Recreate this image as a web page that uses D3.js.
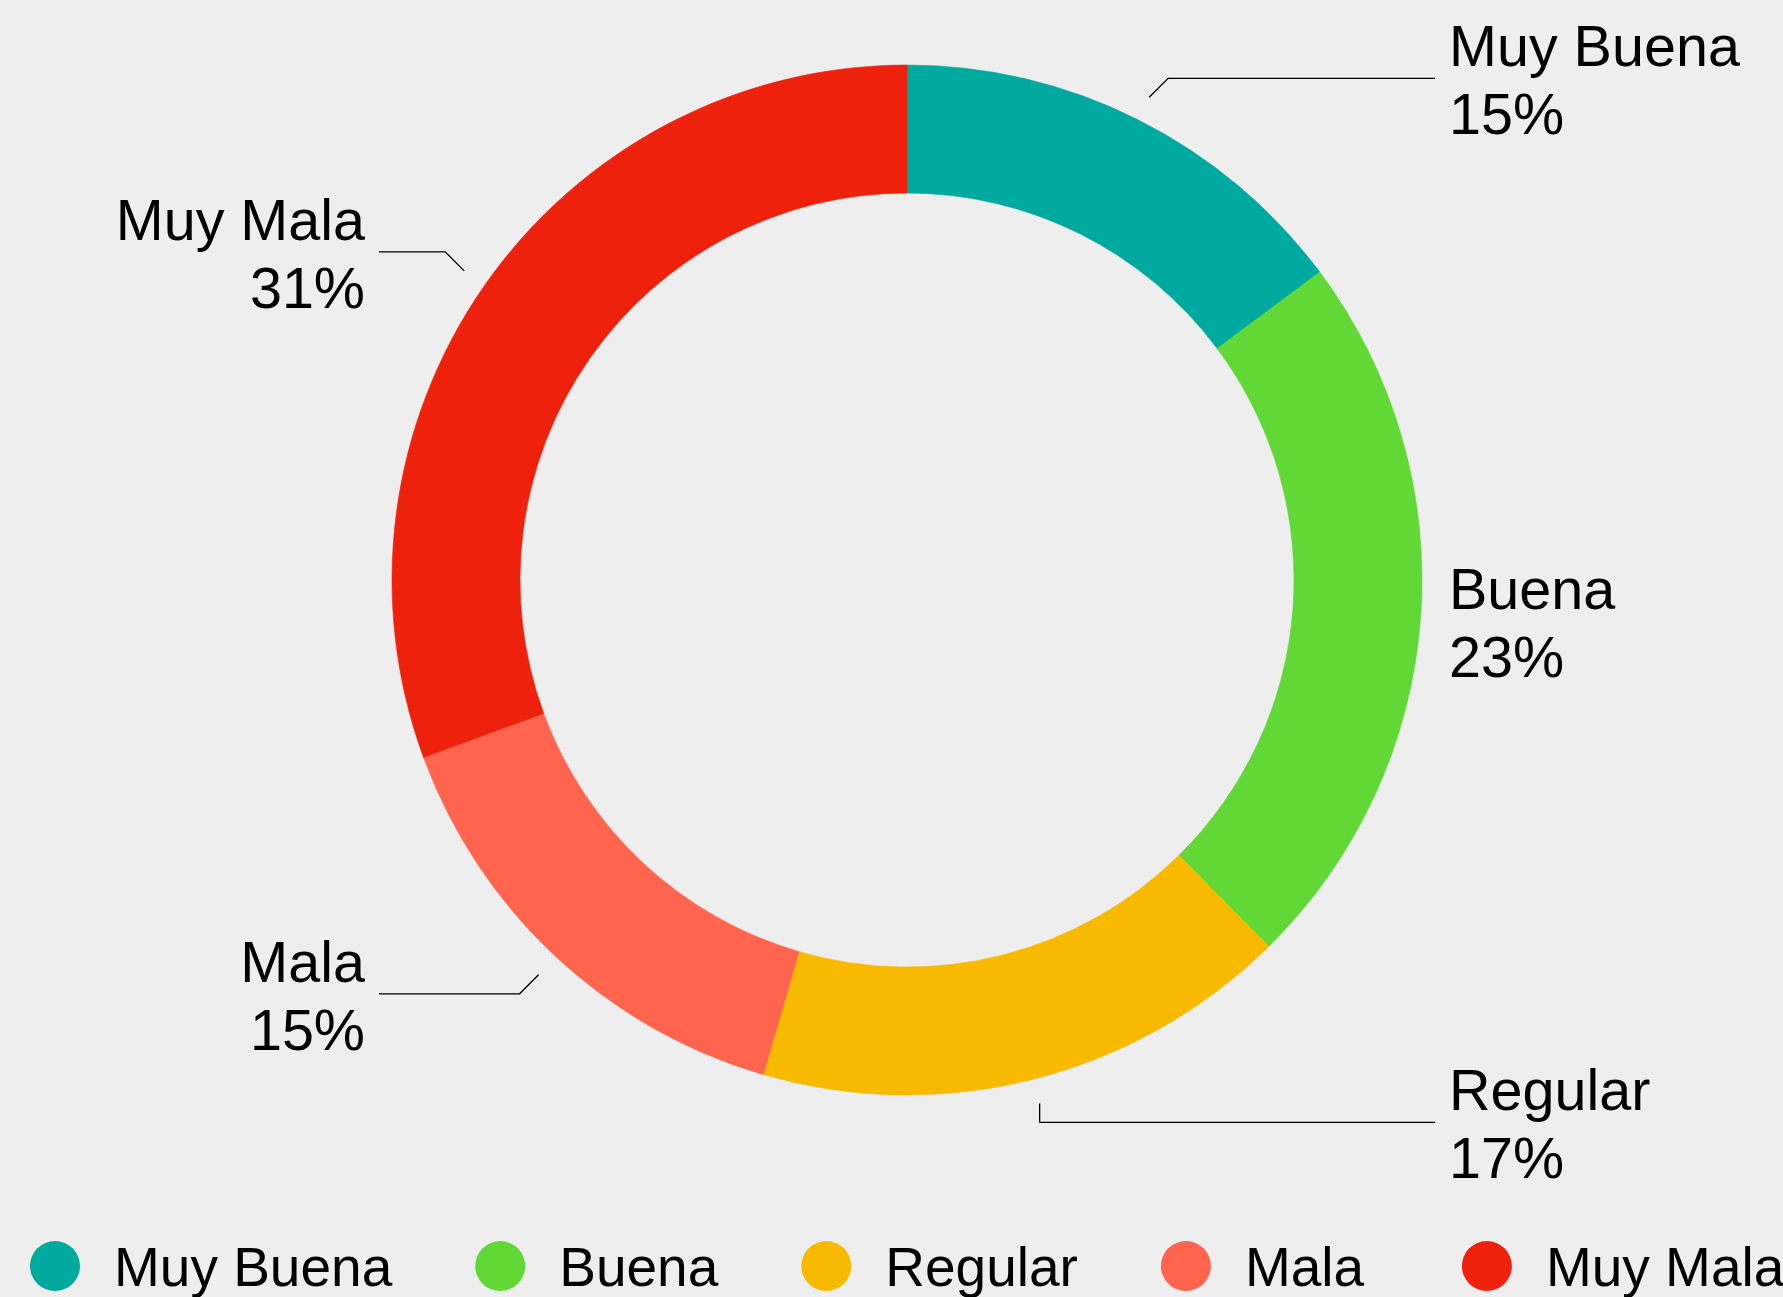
<!DOCTYPE html>
<html>
<head>
<meta charset="utf-8">
<script src="https://cdn.jsdelivr.net/npm/d3@7"></script>
<style>
  html, body { margin: 0; padding: 0; background: #eeeeee; }
  svg { display: block; }
  text { font-family: "Liberation Sans", Arial, Helvetica, sans-serif; fill: #000; }
</style>
</head>
<body>
<svg id="chart" width="1783" height="1297"></svg>
<script>
// ---- data ----
const categories = ["Muy Buena", "Buena", "Regular", "Mala", "Muy Mala"];
const values = [14.8, 22.8, 16.9, 14.9, 30.6];
const colors = ["#00a99d", "#61d836", "#f8ba00", "#ff644e", "#ee220c"];

// ---- layout ----
const W = 1783, H = 1297;
const cx = 907, cy = 580;
const rOuter = 515, rInner = 387;
const tickStartR = 540, crook = 19;
const lineEndOffset = 528, labelOffset = 542;
const labelFont = 57.5, legendFont = 55;

const svg = d3.select("#chart");
svg.append("rect").attr("width", W).attr("height", H).attr("fill", "#eeeeee");

const color = d3.scaleOrdinal().domain(categories).range(colors);
const total = d3.sum(values);
const data = categories.map((c, i) => ({ name: c, value: values[i] }));

const pie = d3.pie().value(d => d.value).sort(null).startAngle(0).endAngle(2 * Math.PI);
const arcs = pie(data);
const arc = d3.arc().innerRadius(rInner).outerRadius(rOuter);

const g = svg.append("g").attr("transform", `translate(${cx},${cy})`);
g.selectAll("path.slice").data(arcs).enter().append("path")
  .attr("class", "slice")
  .attr("d", arc)
  .attr("fill", d => color(d.data.name))
  .attr("stroke", d => color(d.data.name))
  .attr("stroke-width", 0.6);

// ---- labels with leader lines ----
const lab = svg.append("g");
arcs.forEach(d => {
  const th = (d.startAngle + d.endAngle) / 2;
  const s = Math.sin(th), c = Math.cos(th);
  const right = s >= 0;
  const sx = cx + tickStartR * s, sy = cy - tickStartR * c;
  const ex = sx + (Math.abs(s) > 0.3 ? Math.sign(s) * crook : 0);
  const ey = sy + (Math.abs(c) > 0.3 ? -Math.sign(c) * crook : 0);
  const lineEndX = right ? cx + lineEndOffset : cx - lineEndOffset;
  const inside = right ? ex < lineEndX : ex > lineEndX;
  if (inside) {
    lab.append("path")
      .attr("d", d3.line()([[sx, sy], [ex, ey], [lineEndX, ey]]))
      .attr("fill", "none")
      .attr("stroke", "#000")
      .attr("stroke-width", 1.3);
  }
  const tx = right ? cx + labelOffset : cx - labelOffset;
  const anchor = right ? "start" : "end";
  const pct = Math.round(d.data.value / total * 100) + "%";
  lab.append("text").attr("x", tx).attr("y", ey - 12)
    .attr("text-anchor", anchor).attr("font-size", labelFont).text(d.data.name);
  lab.append("text").attr("x", tx).attr("y", ey + 56)
    .attr("text-anchor", anchor).attr("font-size", labelFont).text(pct);
});

// ---- legend ----
const legend = svg.append("g");
const legendY = 1266, dotR = 25, textGap = 59, itemGap = 83, minTextW = 134;
let x = 30;
categories.forEach(cat => {
  legend.append("circle").attr("cx", x + dotR).attr("cy", legendY).attr("r", dotR).attr("fill", color(cat));
  const t = legend.append("text").attr("x", x + dotR + textGap).attr("y", legendY + 20)
    .attr("font-size", legendFont).text(cat);
  const tw = t.node().getComputedTextLength();
  x = x + dotR + textGap + Math.max(tw, minTextW) + itemGap;
});
</script>
</body>
</html>
